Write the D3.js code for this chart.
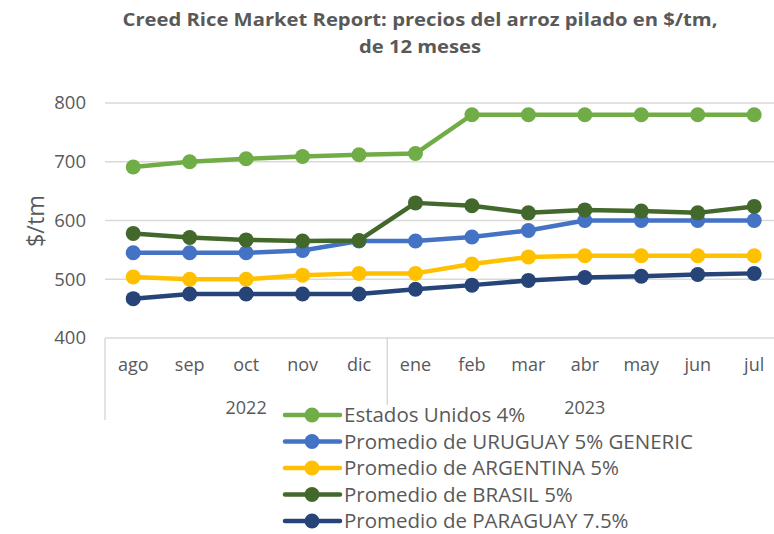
<!DOCTYPE html>
<html><head><meta charset="utf-8">
<script src="https://cdn.jsdelivr.net/npm/d3@7"></script>
<style>body{margin:0;background:#fff;} svg{display:block;}</style>
</head><body>
<script>
const months = ["ago","sep","oct","nov","dic","ene","feb","mar","abr","may","jun","jul"];
const years = [{label:"2022", from:0, to:4},{label:"2023", from:5, to:11}];
const yTicks = [400,500,600,700,800];
const seriesNames = ["Estados Unidos 4%","Promedio de URUGUAY 5% GENERIC","Promedio de ARGENTINA 5%","Promedio de BRASIL 5%","Promedio de PARAGUAY 7.5%"];
const seriesColors = ["#70AD47","#4472C4","#FFC000","#43682B","#264478"];
const usa      = [691,700,705,709,712,714,780,780,780,780,780,780];
const uruguay  = [545,545,545,549,565,565,572,583,600,600,600,600];
const argentina= [504,500,500,507,510,510,526,538,540,540,540,540];
const brasil   = [578,571,567,565,566,630,625,613,618,616,613,624];
const paraguay = [467,475,475,475,475,483,490,498,503,505,508,510];
const seriesValues = [usa, uruguay, argentina, brasil, paraguay];

const W = 774, H = 534;
const svg = d3.select("body").append("svg").attr("width", W).attr("height", H);
const font = "'Open Sans', sans-serif";
const grey = "#595959";

const plotL = 105, bandW = 56.45, plotR = plotL + bandW*12;
const x = d3.scaleBand().domain(months).range([plotL, plotR]);
const y = d3.scaleLinear().domain([400, 800]).range([338, 103]);

// title
const title = svg.append("text").attr("text-anchor","middle").attr("fill",grey)
  .attr("transform","translate(420,0) scale(1.19,1)")
  .attr("font-family",font).attr("font-weight","bold").attr("font-size",17);
title.append("tspan").attr("x",0).attr("y",26).text("Creed Rice Market Report: precios del arroz pilado en $/tm,");
title.append("tspan").attr("x",0).attr("y",53).text("de 12 meses");

// gridlines
svg.append("g").selectAll("line").data(yTicks.filter(d=>d>400)).join("line")
  .attr("x1",plotL).attr("x2",plotR).attr("y1",d=>y(d)).attr("y2",d=>y(d))
  .attr("stroke","#d9d9d9").attr("stroke-width",1.5);

// y axis labels
const yAxis = d3.axisLeft(y).tickValues(yTicks).tickSize(0).tickPadding(19);
const yg = svg.append("g").attr("transform",`translate(${plotL},0)`).call(yAxis);
yg.select(".domain").remove();
yg.selectAll("text").attr("font-family",font).attr("font-size",18.5).attr("fill",grey);

// y title
svg.append("text").attr("transform","translate(44,221) rotate(-90)").attr("text-anchor","middle")
  .attr("font-family",font).attr("font-size",23.5).attr("fill",grey).text("$/tm");

// x axis box
const xg = svg.append("g");
xg.append("line").attr("x1",plotL).attr("x2",plotR).attr("y1",y(400)).attr("y2",y(400)).attr("stroke","#d9d9d9").attr("stroke-width",1.5);
xg.append("line").attr("x1",plotL).attr("x2",plotL).attr("y1",y(400)).attr("y2",420).attr("stroke","#d9d9d9").attr("stroke-width",1.5);
xg.append("line").attr("x1",x("ene")).attr("x2",x("ene")).attr("y1",y(400)).attr("y2",405).attr("stroke","#d9d9d9").attr("stroke-width",1.5);
const xAxis = d3.axisBottom(x).tickSize(0).tickPadding(20);
const xa = svg.append("g").attr("transform",`translate(0,${y(400)})`).call(xAxis);
xa.select(".domain").remove();
xa.selectAll("text").attr("font-family",font).attr("font-size",18).attr("fill",grey);
svg.append("g").selectAll("text").data(years).join("text")
  .attr("x",d=>(x(months[d.from])+x(months[d.to])+bandW)/2).attr("y",414)
  .attr("text-anchor","middle").attr("font-family",font).attr("font-size",18).attr("fill",grey)
  .text(d=>d.label);

// lines
const line = d3.line().x((d,i)=>x(months[i])+bandW/2).y(d=>y(d));
const sg = svg.append("g").selectAll("g").data(seriesValues).join("g");
sg.append("path").attr("d",d=>line(d)).attr("fill","none")
  .attr("stroke",(d,i)=>seriesColors[i]).attr("stroke-width",4.5).attr("stroke-linejoin","round");
sg.each(function(d,i){
  d3.select(this).selectAll("circle").data(d).join("circle")
    .attr("cx",(v,j)=>x(months[j])+bandW/2).attr("cy",v=>y(v)).attr("r",7.5).attr("fill",seriesColors[i]);
});

// legend
const lg = svg.append("g").selectAll("g").data(seriesNames).join("g")
  .attr("transform",(d,i)=>`translate(0,${415+i*26.5})`);
lg.append("line").attr("x1",285).attr("x2",340).attr("y1",0).attr("y2",0)
  .attr("stroke",(d,i)=>seriesColors[i]).attr("stroke-width",4.5).attr("stroke-linecap","round");
lg.append("circle").attr("cx",312).attr("cy",0).attr("r",7.5).attr("fill",(d,i)=>seriesColors[i]);
lg.append("text").attr("x",344).attr("y",7).attr("font-family",font).attr("font-size",20.5)
  .attr("fill",grey).text(d=>d);
</script>
</body></html>
